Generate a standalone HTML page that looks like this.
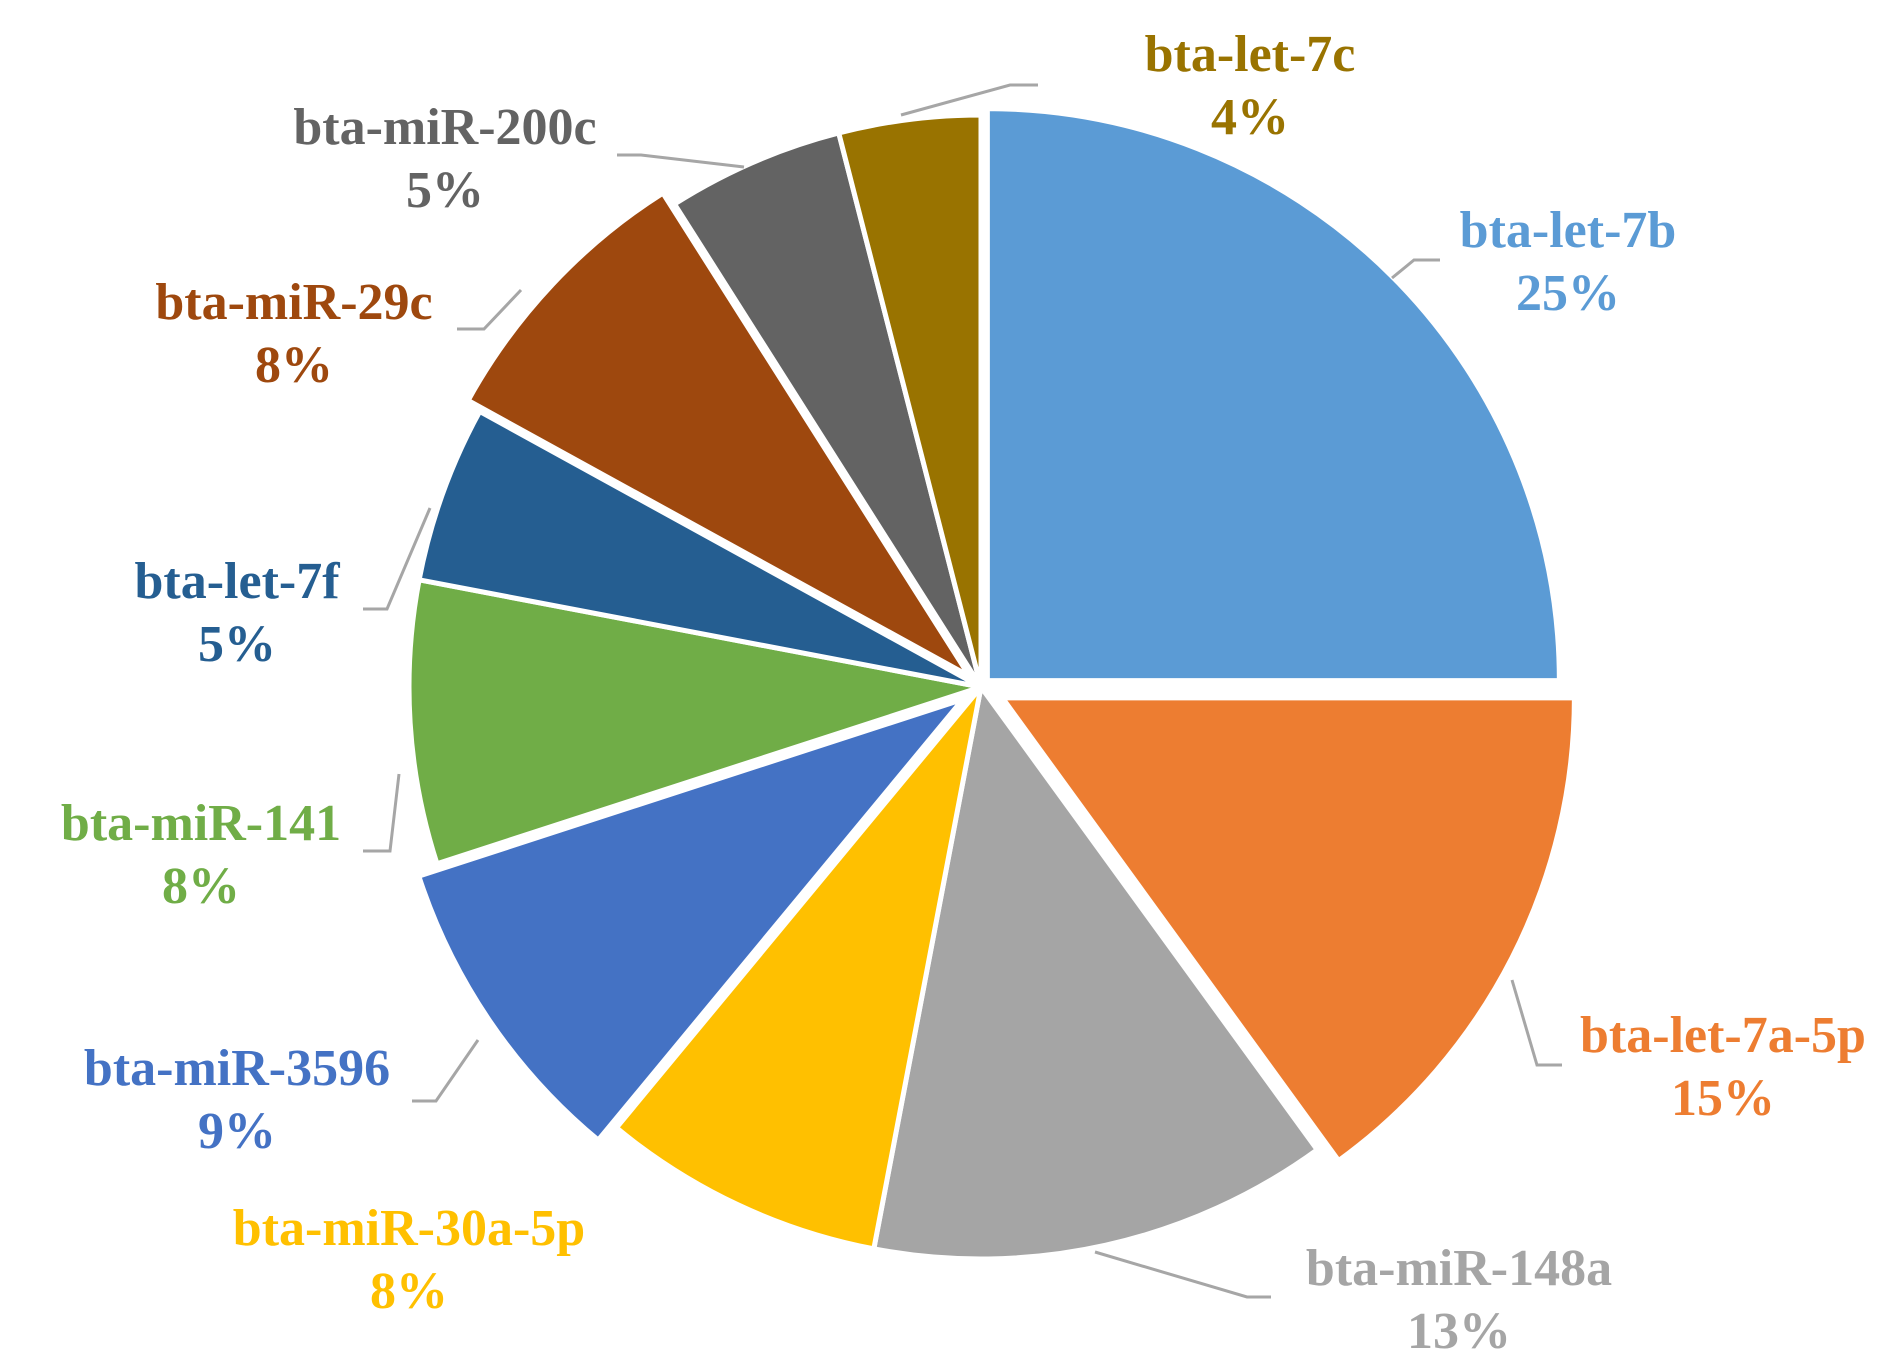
<!DOCTYPE html>
<html><head><meta charset="utf-8"><style>
html,body{margin:0;padding:0;background:#fff;}
svg text{font-family:"Liberation Serif",serif;font-weight:bold;font-size:52px;}
</style></head><body>
<svg id="chart" width="1890" height="1360" viewBox="0 0 1890 1360" xmlns="http://www.w3.org/2000/svg">
<g id="slices"></g>
<g id="leaders"></g>
<g id="labels"></g>
</svg>
<script>
const categories = ["bta-let-7b","bta-let-7a-5p","bta-miR-148a","bta-miR-30a-5p","bta-miR-3596","bta-miR-141","bta-let-7f","bta-miR-29c","bta-miR-200c","bta-let-7c"];
const values = [25,15,13,8,9,8,5,8,5,4];
const pctLabels = ["25%","15%","13%","8%","9%","8%","5%","8%","5%","4%"];

const colors = ["#5b9bd5","#ed7d31","#a5a5a5","#ffc000","#4472c4","#70ad47","#255e91","#9e480e","#636363","#997300"];
const labelColors = ["#5b9bd5","#ed7d31","#a5a5a5","#ffc000","#4472c4","#70ad47","#255e91","#9e480e","#636363","#997300"];
const explode = [9,24,0,0,22,0,0,16,0,0];
const labelPos = [[1568,230],[1723,1035],[1459,1268],[409,1228],[237,1068],[201,823],[237,581],[294,302],[445,127],[1250,54]];
const leaderPts = [
 [[1392,278],[1414,260],[1440,260]],
 [[1512,980],[1537,1065],[1562,1065]],
 [[1095,1252],[1247,1297],[1271,1297]],
 null,
 [[478,1040],[436,1101],[412,1101]],
 [[399,774],[390,851],[363,851]],
 [[430,508],[387,609],[363,609]],
 [[521,290],[484,329],[457,329]],
 [[744,167],[641,155],[617,155]],
 [[901,115],[1010,85],[1038,85]]
];
const cx=981, cy=687, R=572;
const NS="http://www.w3.org/2000/svg";
const total = values.reduce((a,b)=>a+b,0);
const sg=document.getElementById('slices'), lg=document.getElementById('leaders'), tg=document.getElementById('labels');
function pt(a,r,ox,oy){return [cx+ox+r*Math.sin(a), cy+oy-r*Math.cos(a)];}
let start=0;
values.forEach((v,i)=>{
  const sweep=v/total*2*Math.PI, end=start+sweep, mid=start+sweep/2;
  const ox=explode[i]*Math.sin(mid), oy=-explode[i]*Math.cos(mid);
  const p1=pt(start,R,ox,oy), p2=pt(end,R,ox,oy);
  const large=sweep>Math.PI?1:0;
  const path=document.createElementNS(NS,'path');
  path.setAttribute('d',`M${cx+ox},${cy+oy} L${p1[0]},${p1[1]} A${R},${R} 0 ${large} 1 ${p2[0]},${p2[1]} Z`);
  path.setAttribute('fill',colors[i]);
  path.setAttribute('stroke','#fff');
  path.setAttribute('stroke-width','5');
  path.setAttribute('stroke-linejoin','round');
  
  
  sg.appendChild(path);
  if(leaderPts[i]){
    const pl=document.createElementNS(NS,'polyline');
    pl.setAttribute('points',leaderPts[i].map(p=>p.join(',')).join(' '));
    pl.setAttribute('fill','none');pl.setAttribute('stroke','#a6a6a6');pl.setAttribute('stroke-width','3');
    
    
    lg.appendChild(pl);
  }
  const [lx,ly]=labelPos[i];
  const t=document.createElementNS(NS,'text');
  t.setAttribute('x',lx);t.setAttribute('y',ly+17);t.setAttribute('text-anchor','middle');t.setAttribute('fill',labelColors[i]);
  t.textContent=categories[i];
  
  
  tg.appendChild(t);
  const t2=document.createElementNS(NS,'text');
  t2.setAttribute('x',lx);t2.setAttribute('y',ly+80);t2.setAttribute('text-anchor','middle');t2.setAttribute('fill',labelColors[i]);
  t2.textContent=pctLabels[i];
  
  
  tg.appendChild(t2);
  start=end;
});
</script>
</body></html>
